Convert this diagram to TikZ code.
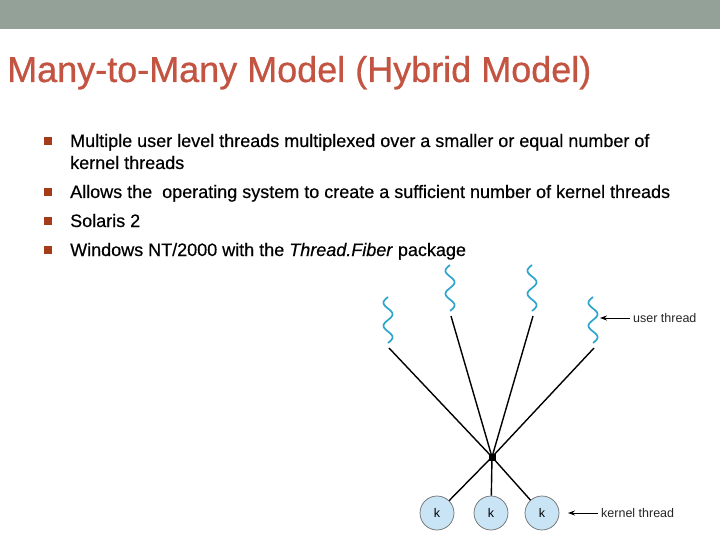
\documentclass[tikz,border=0pt]{standalone}
\usepackage{fontspec}
\setmainfont{Liberation Sans}
\newfontfamily\titlefont[FakeBold=0.8]{Liberation Sans}
\newfontfamily\bodyfont[FakeBold=0.4,ItalicFont={Liberation Sans Italic},ItalicFeatures={FakeBold=0.4}]{Liberation Sans}
\usetikzlibrary{arrows.meta}
\definecolor{barcol}{RGB}{147,161,153}
\definecolor{titlecol}{RGB}{196,84,66}
\definecolor{bulcol}{RGB}{165,60,25}
\definecolor{wavecol}{RGB}{45,165,205}
\definecolor{kfill}{RGB}{200,228,245}
\definecolor{kdraw}{RGB}{110,110,110}
\tikzset{
  bul/.style={fill=bulcol, minimum size=7.5pt, inner sep=0pt},
  btext/.style={anchor=base west, inner sep=0pt, font=\bodyfont\fontsize{18}{20}\selectfont},
  wave/.style={wavecol, line width=1.7pt},
  link/.style={black, line width=1.4pt},
  kth/.style={circle, draw=kdraw, fill=kfill, minimum size=34pt, inner sep=0pt, font=\fontsize{12.5}{14}\selectfont, line width=0.7pt},
  lbl/.style={anchor=west, inner sep=0pt, font=\fontsize{12.5}{14}\selectfont, text=black!85},
  larr/.style={-{Stealth[length=7pt,width=5pt]}, line width=1pt}
}
\begin{document}
\begin{tikzpicture}[x=1pt,y=-1pt]
\useasboundingbox (0,0) rectangle (720,540);
\fill[white] (0,0) rectangle (720,540);
\fill[barcol] (0,0) rectangle (720,29);
\node[anchor=base west, inner sep=0pt, text=titlecol, font=\titlefont\fontsize{36}{40}\selectfont] (title) at (7,82) {Many-to-Many Model (Hybrid Model)};
% bullets
\node[bul] (b1) at (48,141) {};
\node[btext] (t1) at (70,147) {Multiple user level threads multiplexed over a smaller or equal number of};
\node[btext] (t1b) at (70,169) {kernel threads};
\node[bul] (b2) at (48,192) {};
\node[btext] (t2) at (70,198) {Allows the\ \ operating system to create a sufficient number of kernel threads};
\node[bul] (b3) at (48,221) {};
\node[btext] (t3) at (70,227) {Solaris 2};
\node[bul] (b4) at (48,250) {};
\node[btext] (t4) at (70,256) {Windows NT/2000 with the \textit{Thread.Fiber} package};
% user threads
\foreach \n/\px/\py in {1/388/297, 2/450/265, 3/532/265, 4/593/297}{
  \draw[wave] plot[domain=0:1, samples=60, smooth] ({\px - 4.5*sin(720*\x)}, {\py + 46*\x});
  \coordinate (u\n) at (\px+1,\py+51);
}
% hub
\node[fill=black, minimum size=7pt, inner sep=0pt] (hub) at (492,457) {};
% kernel threads
\node[kth] (k1) at (437,513) {k};
\node[kth] (k2) at (491,513) {k};
\node[kth] (k3) at (542,513) {k};
\foreach \n in {1,...,4}{\draw[link] (u\n) -- (hub.center);}
\foreach \n in {1,2,3}{\draw[link] (hub.center) -- (k\n);}
% labels
\node[lbl] (ul) at (633,318) {user thread};
\node[lbl] (kl) at (601,513) {kernel thread};
\coordinate (uta) at (600,318);
\coordinate (kta) at (568,513);
\draw[larr] (ul.west) ++(-3,0) -- (uta);
\draw[larr] (kl.west) ++(-3,0) -- (kta);
\end{tikzpicture}
\end{document}
